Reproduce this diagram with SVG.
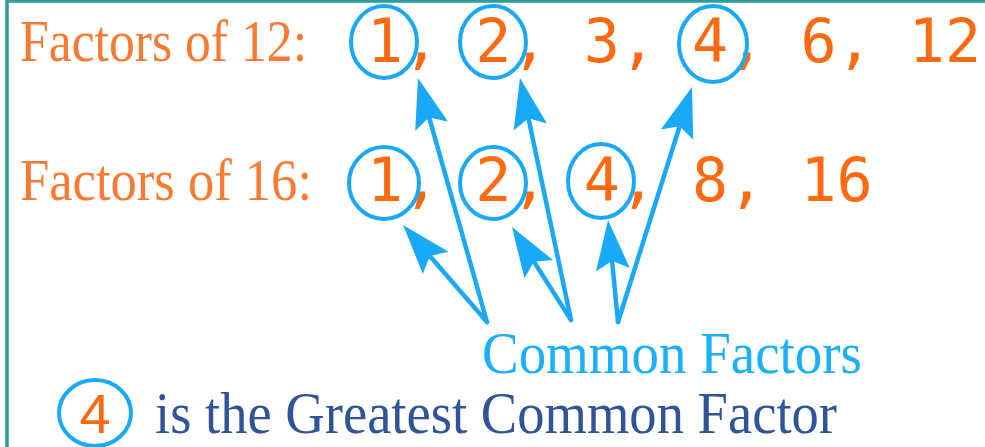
<svg xmlns="http://www.w3.org/2000/svg" width="985" height="447" viewBox="0 0 985 447">
<style>
.lbl{font-family:"Liberation Serif",serif;font-size:60px;fill:#f97a33}
.num{font-family:"DejaVu Sans Mono",monospace;font-size:60px;fill:#ff6a10}
.ring{fill:none;stroke:#1aa9f6;stroke-width:4}
.arr{stroke:#1aa9f6;stroke-width:4.5;stroke-linecap:round;fill:none;marker-end:url(#ah)}
.cf{font-family:"Liberation Serif",serif;font-size:60px;fill:#1cb0fc}
.gcf{font-family:"Liberation Serif",serif;font-size:60px;fill:#2f5597}
</style>
<defs>
<marker id="ah" markerUnits="userSpaceOnUse" markerWidth="50" markerHeight="34" refX="30" refY="17" orient="auto" overflow="visible">
<path d="M50,17 L0,0 L9,17 L0,34 Z" fill="#1aa9f6"/>
</marker>
</defs>
<rect x="0" y="0" width="985" height="447" fill="#ffffff"/>
<path d="M7,447 V1 H985" fill="none" stroke="#2a9d9f" stroke-width="3.5"/>
<g id="row12">
<text class="lbl" x="20" y="61" textLength="287" lengthAdjust="spacingAndGlyphs">Factors of 12:</text>
<text class="num" x="367" y="62">1, 2, 3, 4, 6, 12</text>
<ellipse class="ring" cx="384" cy="42" rx="33" ry="36"/>
<ellipse class="ring" cx="493" cy="42" rx="33" ry="36"/>
<ellipse class="ring" cx="713" cy="44" rx="34" ry="38"/>
</g>
<g id="row16">
<text class="lbl" x="20" y="200" textLength="292" lengthAdjust="spacingAndGlyphs">Factors of 16:</text>
<text class="num" x="367" y="201">1, 2, 4, 8, 16</text>
<ellipse class="ring" cx="384" cy="183" rx="35" ry="36"/>
<ellipse class="ring" cx="493" cy="183" rx="33" ry="36"/>
<ellipse class="ring" cx="601" cy="181" rx="33" ry="37"/>
</g>
<g id="connectors">
<path class="arr" d="M487,322 L423.4,97.2"/>
<path class="arr" d="M487,322 L416.1,240.1"/>
<path class="arr" d="M571,320 L524.1,97.6"/>
<path class="arr" d="M571,320 L522.7,243.9"/>
<path class="arr" d="M618,322 L610,239.9"/>
<path class="arr" d="M618,322 L686,106.1"/>
</g>
<g id="common">
<text class="cf" x="482" y="373" textLength="380" lengthAdjust="spacingAndGlyphs">Common Factors</text>
</g>
<g id="gcf">
<ellipse class="ring" cx="95" cy="413" rx="36" ry="33"/>
<text x="95" y="433" text-anchor="middle" font-family="Liberation Sans, sans-serif" font-size="56" fill="#ff6a10">4</text>
<text class="gcf" x="155" y="433" textLength="682" lengthAdjust="spacingAndGlyphs">is the Greatest Common Factor</text>
</g>
</svg>
